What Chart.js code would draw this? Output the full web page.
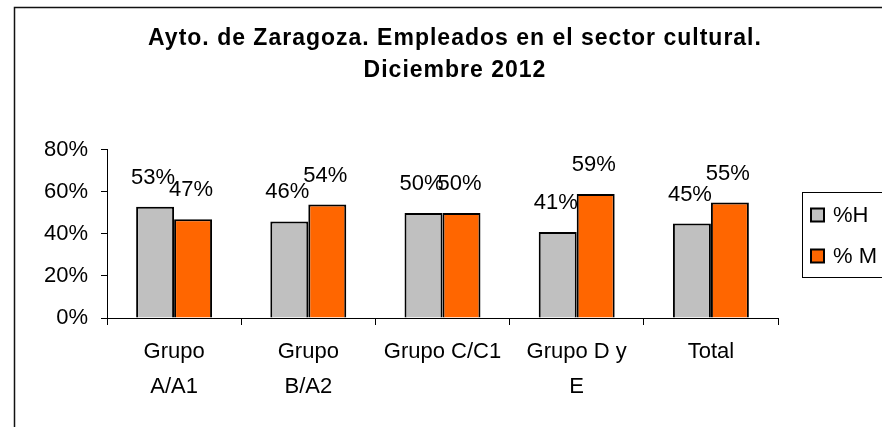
<!DOCTYPE html>
<html>
<head>
<meta charset="utf-8">
<script src="https://cdn.jsdelivr.net/npm/chart.js@4"></script>
<style>
    body { margin: 0; background: #fff; }
    #caja { position: relative; width: 882px; height: 427px; }
</style>
</head>
<body>
<div id="caja">
    <canvas id="graficoEmpleados" width="882" height="427"></canvas>
</div>
<script>
// datos
var categorias = [['Grupo', 'A/A1'], ['Grupo', 'B/A2'], 'Grupo C/C1', ['Grupo D y', 'E'], 'Total'];
var porcentajeH = [53, 46, 50, 41, 45];
var porcentajeM = [47, 54, 50, 59, 55];
var nombresSeries = ['%H', '% M'];
var titulo = ['Ayto. de Zaragoza. Empleados en el sector cultural.', 'Diciembre 2012'];

var fuente = "'Liberation Sans', Arial, sans-serif";

// marco exterior, etiquetas de datos y leyenda con recuadro
const pluginExtras = {
    id: 'extras',
    afterLayout(chart) {
        // el titulo original tiene las letras algo separadas
        const t = chart.titleBlock;
        if (t && !t._espaciado) {
            const dibujar = t.draw.bind(t);
            t.draw = function (area) {
                chart.ctx.save();
                chart.ctx.letterSpacing = '1px';
                dibujar(area);
                chart.ctx.restore();
            };
            t._espaciado = true;
        }
    },
    beforeDraw(chart) {
        const ctx = chart.ctx;
        ctx.save();
        ctx.strokeStyle = '#111';
        ctx.lineWidth = 1.5;
        ctx.strokeRect(14.5, 7.5, 900, 450);
        ctx.restore();
    },
    afterDatasetsDraw(chart) {
        const ctx = chart.ctx;
        ctx.save();
        ctx.font = '22px ' + fuente;
        ctx.fillStyle = '#000';
        ctx.textAlign = 'center';
        ctx.textBaseline = 'middle';
        chart.data.datasets.forEach(function (ds, i) {
            const meta = chart.getDatasetMeta(i);
            meta.data.forEach(function (barra, j) {
                ctx.fillText(ds.data[j] + '%', barra.x - 2, barra.y - 29);
            });
        });

        // leyenda
        ctx.strokeStyle = '#000';
        ctx.lineWidth = 1;
        ctx.strokeRect(802.5, 192.5, 100, 85);
        ctx.textAlign = 'left';
        chart.data.datasets.forEach(function (ds, i) {
            const y = 215 + i * 41;
            ctx.fillStyle = ds.backgroundColor;
            ctx.fillRect(811, y - 6.5, 13, 13);
            ctx.lineWidth = 2;
            ctx.strokeRect(811, y - 6.5, 13, 13);
            ctx.fillStyle = '#000';
            ctx.fillText(ds.label, 833, y + 1);
        });
        ctx.restore();
    }
};

const config = {
    type: 'bar',
    data: {
        labels: categorias,
        datasets: [{
            label: nombresSeries[0],
            data: porcentajeH,
            backgroundColor: '#C0C0C0',
            borderColor: '#000',
            borderWidth: 2,
            categoryPercentage: 0.566,
            barPercentage: 1
        }, {
            label: nombresSeries[1],
            data: porcentajeM,
            backgroundColor: '#FF6600',
            borderColor: '#000',
            borderWidth: 2,
            categoryPercentage: 0.566,
            barPercentage: 1
        }]
    },
    options: {
        responsive: false,
        animation: false,
        layout: {
            padding: { left: 28, right: 0, top: 0, bottom: 0 }
        },
        plugins: {
            legend: { display: false },
            tooltip: { enabled: false },
            title: {
                display: true,
                text: titulo,
                color: '#000',
                font: { family: fuente, size: 23, weight: 'bold', lineHeight: 1.413 },
                padding: { top: 22, bottom: 63 }
            }
        },
        scales: {
            x: {
                grid: {
                    display: true,
                    drawOnChartArea: false,
                    drawTicks: true,
                    tickLength: 7,
                    color: '#000'
                },
                border: { display: true, color: '#000', width: 1 },
                ticks: {
                    color: '#000',
                    padding: 9,
                    maxRotation: 0,
                    autoSkip: false,
                    font: { family: fuente, size: 22, lineHeight: 1.6 }
                },
                afterFit: (scale) => { scale.height = 109; }
            },
            y: {
                min: 0,
                max: 80,
                grid: {
                    display: true,
                    drawOnChartArea: false,
                    drawTicks: true,
                    tickLength: 6,
                    color: '#000'
                },
                border: { display: true, color: '#000', width: 1 },
                ticks: {
                    stepSize: 20,
                    color: '#000',
                    padding: 13,
                    callback: (value) => value + '%',
                    font: { family: fuente, size: 22 }
                },
                afterFit: (scale) => { scale.width = 79; }
            },
            // eje vacio a la derecha para dejar hueco a la leyenda
            yHueco: {
                position: 'right',
                display: true,
                grid: { display: false },
                border: { display: false },
                ticks: { display: false },
                afterFit: (scale) => { scale.width = 104; }
            }
        }
    },
    plugins: [pluginExtras]
};

const myChart = new Chart(document.getElementById('graficoEmpleados'), config);
</script>
</body>
</html>
